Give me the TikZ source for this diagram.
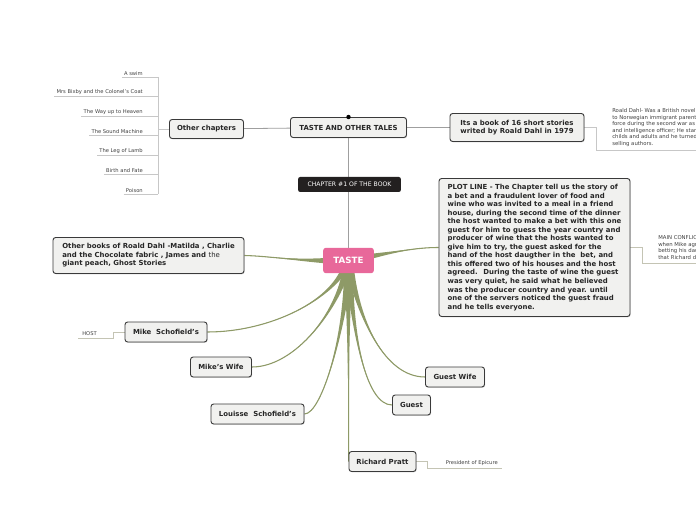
\documentclass[tikz,border=0pt]{standalone}
\usepackage{fontspec}
\setmainfont{DejaVu Sans}
\usepackage{xcolor}
\usetikzlibrary{shadows,backgrounds}
\definecolor{boxfill}{HTML}{F1F1EF}
\definecolor{boxline}{HTML}{3A3A3A}
\definecolor{olive}{HTML}{8E9A67}
\definecolor{tastepink}{HTML}{E8689A}
\definecolor{darklabel}{HTML}{232020}
\definecolor{leafline}{HTML}{C4C4B4}
\newcommand{\twig}[6]{\fill[olive] ([#1]#3) .. controls #4 and #5 .. (#6) .. controls #5 and #4 .. ([#2]#3) -- cycle;
  \draw[olive, line width=0.8pt] (#3) .. controls #4 and #5 .. (#6);}

\begin{document}
\begin{tikzpicture}[
x=0.75pt, y=-0.75pt,
box/.style={draw=boxline, fill=boxfill, rounded corners=2pt, line width=0.7pt, inner sep=0pt, text=black!85,
  font=\fontsize{5.2}{6.4}\selectfont\bfseries, drop shadow={shadow xshift=0.5pt, shadow yshift=-0.6pt, opacity=0.3}},
hub/.style={fill=tastepink, text=white, rounded corners=2pt, inner sep=0pt, minimum width=38pt, minimum height=19pt,
  font=\fontsize{6.5}{7}\selectfont\bfseries},
chap/.style={fill=darklabel, text=white, rounded corners=1.5pt, inner sep=0pt, minimum width=77pt, minimum height=11.25pt,
  font=\fontsize{4.6}{5}\selectfont},
leaf/.style={font=\fontsize{3.9}{4.7}\selectfont, text=black!75, inner xsep=1.5pt, inner ysep=1.2pt},
note/.style={font=\fontsize{4}{4.9}\selectfont, text=black!75, align=left, inner xsep=0pt, inner ysep=2.5pt},
tag/.style={font=\fontsize{3.9}{4.7}\selectfont, text=black!75, inner xsep=3pt, inner ysep=1.5pt},
gline/.style={draw=gray!75, line width=0.6pt},
lline/.style={draw=black!22, line width=0.5pt}
]
\useasboundingbox (0,0) rectangle (696,520);
\clip (0,0) rectangle (696,520);

\node[box, minimum width=87pt, minimum height=15pt] (tales) at (348.5,127.5) {TASTE AND OTHER TALES};
\node[chap] (chapter) at (349.5,184.5) {CHAPTER \#1 OF THE BOOK};
\node[hub] (taste) at (348.5,260.5) {TASTE};
\node[box, minimum width=55.5pt, minimum height=14.25pt] (others) at (206.5,129) {Other chapters};
\node[box, align=left, minimum width=100.5pt, minimum height=21pt] (book) at (517,127.5) {Its a book of 16 short stories\\writed by Roald Dahl in 1979};
\node[box, align=left, minimum width=143.25pt, minimum height=103.5pt] (plot) at (534.5,247.5) {PLOT LINE - The Chapter tell us the story of\\
a bet and a fraudulent lover of food and\\
wine who was invited to a meal in a friend\\
house, during the second time of the dinner\\
the host wanted to make a bet with this one\\
guest for him to guess the year country and\\
producer of wine that the hosts wanted to\\
give him to try, the guest asked for the\\
hand of the host daugther in the~ bet, and\\
this offered two of his houses and the host\\
agreed.~ During the taste of wine the guest\\
was very quiet, he said what he believed\\
was the producer country and year. until\\
one of the servers noticed the guest fraud\\
and he tells everyone.};
\node[box, align=left, minimum width=143.25pt, minimum height=27pt] (books) at (148.5,255.5) {Other books of Roald Dahl -Matilda , Charlie\\
and the Chocolate fabric , James and {\mdseries the}\\
giant peach, Ghost Stories};
\node[box, minimum width=61.5pt, minimum height=15pt] (mike) at (166,332) {Mike~~Schofield's};
\node[box, minimum width=45.75pt, minimum height=15pt] (wife) at (221,367) {Mike's Wife};
\node[box, minimum width=69.75pt, minimum height=15pt] (louisse) at (257.5,414) {Louisse~~Schofield's};
\node[box, minimum width=44.25pt, minimum height=15pt] (guestwife) at (455,377) {Guest Wife};
\node[box, minimum width=28.5pt, minimum height=15pt] (guest) at (411.5,405) {Guest};
\node[box, minimum width=50.25pt, minimum height=15pt] (pratt) at (382.5,461.5) {Richard Pratt};

\node[note, anchor=south west] (rdnote) at (612,150) {Roald Dahl- Was a British novelist born\\
to Norwegian immigrant parents\\
force during the second war as\\
and intelligence officer; He started\\
childs and adults and he turned\\
selling authors.};
\node[note, anchor=south west] (mcnote) at (658,263) {MAIN CONFLICT\\
when Mike agreed\\
betting his daughter\\
that Richard did};
\node[tag, anchor=south west] (host) at (78,338) {HOST};
\node[tag, anchor=south east] (epicure) at (502,468) {President of Epicure};

\coordinate (spine) at (158,0);
\foreach \name [count=\i] in {A swim, Mrs Bixby and the Colonel's Coat, The Way up to Heaven, The Sound Machine,
  The Leg of Lamb, Birth and Fate, Poison} {
  \node[leaf, anchor=south east] (ch\i) at (145,57.5+19.5*\i) {\name};
  \draw[lline] (ch\i.south west) -- (ch\i.south -| spine);
}

\fill[black] (tales.north) circle (2.2);

\begin{scope}[on background layer]
\fill[white] (0,0) rectangle (696,520);
\draw[lline] (ch1.south -| spine) -- (ch7.south -| spine);
\draw[lline] (others.west) -- (others.west -| spine);
\draw[gline] (others) -- (tales);
\draw[gline] (tales) -- (book);
\draw[gline] (tales) -- (taste);
\draw[lline] (book.east) -- ++(12,0) |- (rdnote.south east);
\draw[leafline, line width=0.5pt] (plot.east) -- ++(12,0) |- (mcnote.south east);
\draw[leafline, line width=0.5pt] (mike.west) -- ++(-11,0) |- (host.south west);
\draw[leafline, line width=0.5pt] (pratt.east) -- ++(11,0) |- (epicure.south east);

\twig{yshift=-3.5pt}{yshift=3.5pt}{taste.center}{(300,262)}{(270,256)}{books.east}
\twig{yshift=-3.5pt}{yshift=3.5pt}{taste.center}{(395,252)}{(415,247.5)}{plot.west}
\twig{xshift=-3.5pt}{xshift=3.5pt}{taste.center}{(335,300)}{(270,332)}{mike.east}
\twig{xshift=-3.5pt}{xshift=3.5pt}{taste.center}{(340,310)}{(295,367)}{wife.east}
\twig{xshift=-3.5pt}{xshift=3.5pt}{taste.center}{(346,330)}{(322,414)}{louisse.east}
\twig{xshift=-3.5pt}{xshift=3.5pt}{taste.center}{(348,330)}{(349,420)}{pratt.west}
\twig{xshift=-3.5pt}{xshift=3.5pt}{taste.center}{(352,330)}{(365,405)}{guest.west}
\twig{xshift=-3.5pt}{xshift=3.5pt}{taste.center}{(358,320)}{(385,377)}{guestwife.west}
\end{scope}
\end{tikzpicture}
\end{document}
